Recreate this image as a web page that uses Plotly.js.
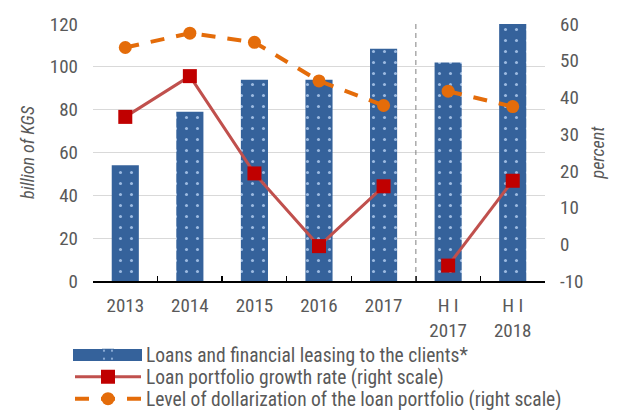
<!DOCTYPE html>
<html>
<head>
<meta charset="utf-8">
<script src="https://cdn.plot.ly/plotly-3.0.1.min.js"></script>
<style>
html,body{margin:0;padding:0;background:#fff;}
#chart{width:619px;height:410px;}
</style>
</head>
<body>
<div id="chart"></div>
<script>
const categories = ["2013", "2014", "2015", "2016", "2017", "H I<br>2017", "H I<br>2018"];
const loans = [54, 79, 94, 94, 108.5, 102, 120];
const growthRate = [34.7, 45.8, 19.3, -0.5, 15.8, -5.8, 17.3];
const dollarization = [53.6, 57.5, 55.0, 44.5, 37.8, 41.7, 37.5];
const leftTicks = [0, 20, 40, 60, 80, 100, 120];
const rightTicks = [-10, 0, 10, 20, 30, 40, 50, 60];
const seriesNames = [
  'Loans and financial leasing to the clients*',
  'Loan portfolio growth rate (right scale)',
  'Level of dollarization of the loan portfolio (right scale)'
];

const FONT = '"Roboto Condensed", "Liberation Sans Narrow", "Arial Narrow", "DejaVu Sans Condensed", sans-serif';
const GRAY = '#595959';
const BLUE = '#35629B';
const TICK = 19, LEG = 19.5, TTL = 18;

const annualIdx = [0, 1, 2, 3, 4];
const halfIdx = [5, 6];
const pick = (arr, idx) => idx.map(i => arr[i]);

const redLine = {color: '#C0504D', width: 3};
const redMarker = {symbol: 'square', size: 14, color: '#C00000'};
const orLine = {color: '#E46C0A', width: 4, dash: '14px,12px'};
const orMarker = {symbol: 'circle', size: 13, color: '#E46C0A'};

const traces = [
  {
    type: 'bar', x: categories, y: loans, name: seriesNames[0], legend: 'legend',
    width: 0.42,
    marker: {color: BLUE, line: {width: 0},
      pattern: {shape: '.', fgcolor: '#9DBBE2', bgcolor: BLUE, size: 11, solidity: 0.06, fillmode: 'replace'}},
    yaxis: 'y'
  },
  {
    type: 'scatter', mode: 'lines+markers', x: pick(categories, annualIdx), y: pick(growthRate, annualIdx),
    name: seriesNames[1], yaxis: 'y2', legend: 'legend2', line: redLine, marker: redMarker
  },
  {
    type: 'scatter', mode: 'lines+markers', x: pick(categories, halfIdx), y: pick(growthRate, halfIdx),
    name: seriesNames[1], yaxis: 'y2', showlegend: false, line: redLine, marker: redMarker
  },
  {
    type: 'scatter', mode: 'lines+markers', x: pick(categories, annualIdx), y: pick(dollarization, annualIdx),
    name: seriesNames[2], yaxis: 'y2', legend: 'legend3', line: orLine, marker: orMarker
  },
  {
    type: 'scatter', mode: 'lines+markers', x: pick(categories, halfIdx), y: pick(dollarization, halfIdx),
    name: seriesNames[2], yaxis: 'y2', showlegend: false, line: orLine, marker: orMarker
  }
];

// plot area in pixels: x 93..545, y 24..281
const PL = 93, PR = 545, PT = 24, PB = 281;
const px2x = p => (p - PL) / (PR - PL);
const px2y = p => (PB - p) / (PB - PT);

const legendAt = rowY => ({
  x: px2x(70), xanchor: 'left', y: px2y(rowY), yanchor: 'middle',
  orientation: 'v', font: {family: FONT, size: LEG, color: GRAY},
  itemwidth: 66, bgcolor: 'rgba(0,0,0,0)', borderwidth: 0
});

const layout = {
  width: 619, height: 410,
  margin: {l: PL, r: 619 - PR, t: PT, b: 410 - PB, pad: 0, autoexpand: false},
  paper_bgcolor: '#fff', plot_bgcolor: '#fff',
  font: {family: FONT, size: TICK, color: GRAY},
  showlegend: true,
  legend: legendAt(355),
  legend2: legendAt(377),
  legend3: legendAt(399),
  xaxis: {
    type: 'category', range: [-0.5, 6.5],
    showline: true, linecolor: '#000', linewidth: 1.5,
    ticks: 'inside', tickson: 'boundaries', ticklen: 5, tickcolor: '#000', tickwidth: 1.5,
    showgrid: false, zeroline: false,
    tickfont: {family: FONT, size: TICK, color: GRAY},
    ticklabelstandoff: 7
  },
  yaxis: {
    range: [0, 120], tickvals: leftTicks, ticktext: leftTicks.map(String),
    showgrid: true, gridcolor: '#D9D9D9', gridwidth: 1, zeroline: false,
    showline: false, ticks: '',
    tickfont: {family: FONT, size: TICK, color: GRAY},
    ticklabelstandoff: 14,
    title: {text: 'billion of KGS', font: {family: FONT, size: TTL, color: GRAY, style: 'italic'}, standoff: 10}
  },
  yaxis2: {
    overlaying: 'y', side: 'right', range: [-10, 60], tickvals: rightTicks, ticktext: rightTicks.map(String),
    showgrid: false, zeroline: false, showline: false, ticks: '',
    tickfont: {family: FONT, size: TICK, color: GRAY},
    ticklabelstandoff: 14,
    title: {text: 'percent', font: {family: FONT, size: TTL, color: GRAY, style: 'italic'}, standoff: 8}
  },
  shapes: [
    {
      type: 'line', xref: 'x', yref: 'paper', x0: 4.5, x1: 4.5, y0: 0, y1: 1,
      line: {color: '#808080', width: 1, dash: '5px,4px'}
    },
    {
      // wide swatch behind the bar legend key, as in the reference
      type: 'rect', xref: 'paper', yref: 'paper', layer: 'above',
      x0: px2x(73), x1: px2x(142), y0: px2y(349), y1: px2y(361),
      fillcolor: BLUE, line: {width: 0}
    }
  ]
};

Plotly.newPlot('chart', traces, layout, {displayModeBar: false, staticPlot: true});
</script>
</body>
</html>
